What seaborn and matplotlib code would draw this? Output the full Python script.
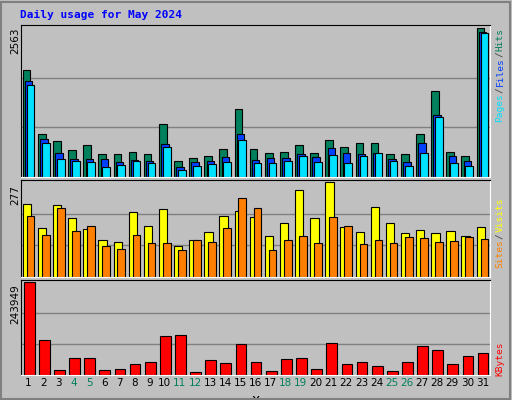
import numpy as np
import pandas as pd
import seaborn as sns
import matplotlib.pyplot as plt
from matplotlib.patches import Rectangle

days = list(range(1, 32))
weekends = [4, 5, 11, 12, 18, 19, 25, 26]
hits = [1847, 746, 623, 466, 553, 396, 396, 431, 396, 903, 274, 326, 361, 483, 1165, 483,
        414, 431, 553, 414, 641, 518, 588, 588, 396, 396, 746, 1480, 431, 361, 2563]
files = [1654, 658, 414, 309, 309, 309, 256, 291, 274, 571, 169, 256, 274, 344, 746, 291,
         326, 326, 396, 344, 501, 414, 396, 414, 309, 256, 588, 1060, 361, 274, 2493]
pages = [1584, 588, 309, 274, 256, 169, 204, 274, 239, 518, 116, 186, 221, 256, 641, 239,
         239, 274, 361, 256, 378, 239, 361, 414, 274, 186, 414, 1025, 239, 186, 2476]
visits = [214, 144, 211, 171, 141, 108, 102, 189, 150, 198, 90, 108, 132, 177, 192, 174,
          120, 156, 253, 171, 277, 147, 132, 204, 156, 129, 138, 129, 135, 120, 147]
sites = [177, 123, 201, 135, 150, 90, 81, 123, 99, 99, 78, 108, 102, 144, 229, 201,
         78, 108, 120, 99, 174, 150, 96, 108, 99, 117, 114, 102, 105, 117, 111]
kbytes = [243949, 91700, 14200, 44500, 44500, 14200, 16900, 27600, 32900, 102400, 105000, 8900,
          38300, 30300, 81000, 32900, 11600, 40900, 44500, 16900, 83700, 27600, 32900, 22300,
          11600, 32900, 75700, 65000, 27600, 49000, 57000]

W, H = 512, 400
bg = "#c0c0c0"
fig = plt.figure(figsize=(W / 100, H / 100), dpi=100)
fig.patch.set_facecolor(bg)
fig.add_artist(Rectangle((1 / W, 1 / H), 1 - 3 / W, 1 - 3 / H, transform=fig.transFigure,
                         fill=False, edgecolor="#808080", lw=1.5))
mono = "DejaVu Sans Mono"

fig.text(20 / W, 1 - 15 / H, "Daily usage for May 2024", color="#0000ff", fontsize=8,
         fontweight="bold", family=mono, va="center")


def make_ax(top, bottom):
    ax = fig.add_axes([21 / W, 1 - bottom / H, 469 / W, (bottom - top) / H])
    ax.set_facecolor(bg)
    for s in ax.spines.values():
        s.set_color("black")
    ax.spines["right"].set_color("white")
    ax.spines["bottom"].set_color("white")
    ax.set_xlim(0.5, 31.5)
    return ax


def bars(ax, vals, off, width, color):
    df = pd.DataFrame({"x": np.array(days) + off, "y": vals})
    sns.barplot(data=df, x="x", y="y", native_scale=True, width=width, color=color,
                edgecolor="black", linewidth=0.8, saturation=1, ax=ax)


def grid(ax, top):
    for f in (1 / 3, 2 / 3):
        ax.axhline(top * f, color="#808080", lw=1, zorder=0)
    ax.set_ylim(0, top * 1.02)
    ax.set_xlabel("")
    ax.set_ylabel("")
    ax.set_yticks([])


ax1 = make_ax(25, 177)
grid(ax1, 2563)
bars(ax1, hits, -0.13, 0.51, "#00805c")
bars(ax1, files, 0.01, 0.49, "#0040ff")
bars(ax1, pages, 0.13, 0.51, "#00e0ff")
ax1.set_xlim(0.5, 31.5)
ax1.set_xticks([])

ax2 = make_ax(180, 277)
grid(ax2, 277)
bars(ax2, visits, -0.11, 0.55, "#ffff00")
bars(ax2, sites, 0.13, 0.51, "#ff8000")
ax2.set_xlim(0.5, 31.5)
ax2.set_xticks([])

ax3 = make_ax(280, 375)
grid(ax3, 243949)
bars(ax3, kbytes, 0.04, 0.71, "#ff0000")
ax3.set_xlim(0.5, 31.5)
ax3.set_xticks(days)
ax3.set_xticklabels([str(d) for d in days], fontsize=7.5)
ax3.tick_params(axis="x", length=0, pad=2)
for lab, d in zip(ax3.get_xticklabels(), days):
    lab.set_color("#00805c" if d in weekends else "black")

# y max labels
for ytop, txt in [(28, "2563"), (185, "277"), (284, "243949")]:
    fig.text(15 / W, 1 - ytop / H, txt, rotation=90, fontsize=7.5, va="top", ha="center")


def side_label(parts, y_top):
    y = y_top
    step = 5.9
    for txt, col in parts:
        fig.text(500 / W, 1 - y / H, txt, rotation=90, color=col, family=mono,
                 fontsize=6.8, va="top", ha="center")
        y += step * len(txt)


side_label([("Hits", "#00805c"), ("/", "#404040"), ("Files", "#0040ff"),
            ("/", "#404040"), ("Pages", "#00e0ff")], 28)
side_label([("Visits", "#ffff00"), ("/", "#404040"), ("Sites", "#ff8000")], 198)
side_label([("KBytes", "#ff0000")], 341)

fig.savefig("out.png", dpi=100, facecolor=bg)
